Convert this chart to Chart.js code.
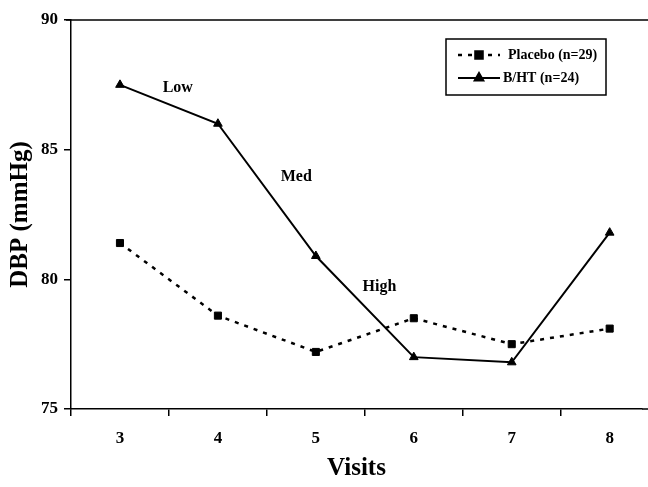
<!DOCTYPE html>
<html>
<head>
<meta charset="utf-8">
<script src="https://cdn.jsdelivr.net/npm/chart.js@4/dist/chart.umd.min.js"></script>
<style>
  html, body { margin: 0; padding: 0; background: #fff; overflow: hidden; }
  #wrap { width: 648px; height: 487px; }
</style>
</head>
<body>
<div id="wrap"><canvas id="dbp-chart" width="648" height="487"></canvas></div>
<script>
// Визиты и значения DBP
const visits = [3, 4, 5, 6, 7, 8];
const placebo = [81.4, 78.6, 77.2, 78.5, 77.5, 78.1];
const bht = [87.5, 86.0, 80.9, 77.0, 76.8, 81.8];
const yTicks = [75, 80, 85, 90];

// Подписи доз на графике
const doseLabels = ['Low', 'Med', 'High'];
const doseX = [3.59, 4.80, 5.65];
const doseY = [87.4, 83.95, 79.7];

const serif = '"Liberation Serif", "Times New Roman", serif';

const toPoints = vals => vals.map((v, i) => ({ x: visits[i], y: v }));

// Рамка сверху, подписи доз и легенда
const extrasPlugin = {
    id: 'extras',
    afterDraw(chart) {
        const ctx = chart.ctx;
        const area = chart.chartArea;
        const xs = chart.scales.x;
        const ys = chart.scales.y;
        ctx.save();
        ctx.strokeStyle = '#000';
        ctx.lineWidth = 1.5;
        ctx.beginPath();
        ctx.moveTo(area.left - 5, area.top);
        ctx.lineTo(chart.width, area.top);
        ctx.moveTo(area.right, area.bottom);
        ctx.lineTo(chart.width, area.bottom);
        ctx.stroke();

        ctx.fillStyle = '#000';
        ctx.font = 'bold 16px ' + serif;
        ctx.textAlign = 'center';
        ctx.textBaseline = 'middle';
        doseLabels.forEach((t, i) => {
            ctx.fillText(t, xs.getPixelForValue(doseX[i]), ys.getPixelForValue(doseY[i]));
        });

        // legend box
        ctx.lineWidth = 1.5;
        ctx.strokeRect(446, 39, 160, 56);
        const rows = [{ ds: 0, y: 55, textX: 508 }, { ds: 1, y: 78, textX: 503 }];
        rows.forEach(r => {
            const ds = chart.data.datasets[r.ds];
            ctx.beginPath();
            ctx.setLineDash(ds.borderDash || []);
            ctx.lineWidth = ds.borderWidth;
            ctx.moveTo(458, r.y);
            ctx.lineTo(500, r.y);
            ctx.stroke();
            ctx.setLineDash([]);
            Chart.helpers.drawPoint(ctx, {
                pointStyle: ds.pointStyle,
                radius: ds.pointRadius,
                borderWidth: 1
            }, 479, r.y);
            ctx.font = 'bold 14px ' + serif;
            ctx.textAlign = 'left';
            ctx.fillText(ds.label, r.textX, r.y);
        });
        ctx.restore();
    }
};

const ctx = document.getElementById('dbp-chart').getContext('2d');
const dbpChart = new Chart(ctx, {
    type: 'line',
    data: {
        datasets: [{
            label: 'Placebo (n=29)',
            data: toPoints(placebo),
            borderColor: '#000',
            backgroundColor: '#000',
            borderWidth: 2.5,
            borderDash: [4, 6],
            pointStyle: 'rect',
            pointRadius: 5,
            pointBorderWidth: 1,
            tension: 0
        }, {
            label: 'B/HT (n=24)',
            data: toPoints(bht),
            borderColor: '#000',
            backgroundColor: '#000',
            borderWidth: 2,
            pointStyle: 'triangle',
            pointRadius: 5,
            pointBorderWidth: 1,
            tension: 0
        }]
    },
    options: {
        responsive: false,
        animation: false,
        layout: { padding: { top: 20, right: 0, left: 0, bottom: 0 } },
        plugins: {
            legend: { display: false },
            tooltip: { enabled: false }
        },
        scales: {
            x: {
                type: 'linear',
                min: 2.5,
                max: 8.33,
                afterBuildTicks: scale => {
                    scale.ticks = visits.map(v => ({ value: v }));
                },
                afterFit: scale => {
                    scale.height = 78;
                    scale.paddingLeft = 0;
                    scale.paddingRight = 0;
                },
                grid: {
                    offset: true,
                    drawOnChartArea: false,
                    color: '#000',
                    lineWidth: 1.5,
                    tickLength: 7
                },
                border: { display: true, color: '#000', width: 1.5 },
                ticks: {
                    color: '#000',
                    padding: 12,
                    font: { family: serif, size: 17, weight: 'bold' },
                    callback: v => String(v)
                },
                title: {
                    display: true,
                    text: 'Visits',
                    color: '#000',
                    font: { family: serif, size: 25, weight: 'bold' },
                    padding: { top: 0, bottom: 3 }
                }
            },
            y: {
                min: 75,
                max: 90,
                afterBuildTicks: scale => {
                    scale.ticks = yTicks.map(v => ({ value: v }));
                },
                afterFit: scale => { scale.width = 71; },
                grid: {
                    drawOnChartArea: false,
                    color: '#000',
                    lineWidth: 1.5,
                    tickLength: 7
                },
                border: { display: true, color: '#000', width: 1.5 },
                ticks: {
                    color: '#000',
                    padding: 6,
                    font: { family: serif, size: 17, weight: 'bold' }
                },
                title: {
                    display: true,
                    text: 'DBP (mmHg)',
                    color: '#000',
                    font: { family: serif, size: 25, weight: 'bold' },
                    padding: { top: 6, bottom: 0 }
                }
            }
        }
    },
    plugins: [extrasPlugin]
});
</script>
</body>
</html>
